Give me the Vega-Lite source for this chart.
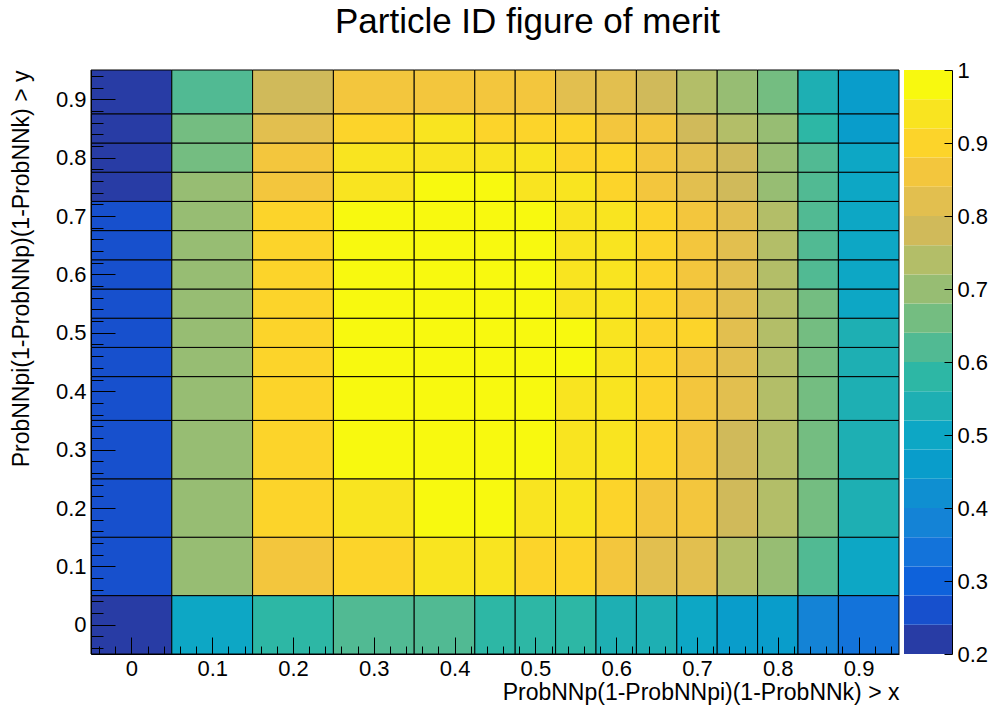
{
  "$schema": "https://vega.github.io/schema/vega-lite/v6.json",
  "autosize": {"type": "none"},
  "width": 861,
  "height": 584,
  "padding": {"left": 91, "top": 70, "right": 40, "bottom": 57},
  "background": "white",
  "title": {
    "text": "Particle ID figure of merit",
    "font": "Liberation Sans",
    "fontSize": 35,
    "fontWeight": "normal",
    "color": "black",
    "anchor": "middle",
    "dx": 6,
    "offset": -9,
    "baseline": "alphabetic"
  },
  "config": {
    "view": {"stroke": null},
    "axis": {
      "labelFont": "Liberation Sans",
      "labelFontSize": 22,
      "labelColor": "black",
      "titleFont": "Liberation Sans",
      "titleFontSize": 23,
      "titleFontWeight": "normal",
      "titleColor": "black",
      "domainColor": "black",
      "domainWidth": 1,
      "tickColor": "black",
      "tickWidth": 1,
      "grid": false,
      "labelOverlap": false,
      "labelFlush": false
    }
  },
  "datasets": {
    "cells": [
      {"x0":-0.05,"x1":0.05,"y0":-0.05,"y1":0.05,"fom":0.22},
      {"x0":0.05,"x1":0.15,"y0":-0.05,"y1":0.05,"fom":0.50},
      {"x0":0.15,"x1":0.25,"y0":-0.05,"y1":0.05,"fom":0.58},
      {"x0":0.25,"x1":0.35,"y0":-0.05,"y1":0.05,"fom":0.62},
      {"x0":0.35,"x1":0.425,"y0":-0.05,"y1":0.05,"fom":0.62},
      {"x0":0.425,"x1":0.475,"y0":-0.05,"y1":0.05,"fom":0.58},
      {"x0":0.475,"x1":0.525,"y0":-0.05,"y1":0.05,"fom":0.58},
      {"x0":0.525,"x1":0.575,"y0":-0.05,"y1":0.05,"fom":0.58},
      {"x0":0.575,"x1":0.625,"y0":-0.05,"y1":0.05,"fom":0.54},
      {"x0":0.625,"x1":0.675,"y0":-0.05,"y1":0.05,"fom":0.54},
      {"x0":0.675,"x1":0.725,"y0":-0.05,"y1":0.05,"fom":0.50},
      {"x0":0.725,"x1":0.775,"y0":-0.05,"y1":0.05,"fom":0.46},
      {"x0":0.775,"x1":0.825,"y0":-0.05,"y1":0.05,"fom":0.46},
      {"x0":0.825,"x1":0.875,"y0":-0.05,"y1":0.05,"fom":0.38},
      {"x0":0.875,"x1":0.95,"y0":-0.05,"y1":0.05,"fom":0.34},

      {"x0":-0.05,"x1":0.05,"y0":0.05,"y1":0.15,"fom":0.26},
      {"x0":0.05,"x1":0.15,"y0":0.05,"y1":0.15,"fom":0.70},
      {"x0":0.15,"x1":0.25,"y0":0.05,"y1":0.15,"fom":0.86},
      {"x0":0.25,"x1":0.35,"y0":0.05,"y1":0.15,"fom":0.90},
      {"x0":0.35,"x1":0.425,"y0":0.05,"y1":0.15,"fom":0.94},
      {"x0":0.425,"x1":0.475,"y0":0.05,"y1":0.15,"fom":0.94},
      {"x0":0.475,"x1":0.525,"y0":0.05,"y1":0.15,"fom":0.90},
      {"x0":0.525,"x1":0.575,"y0":0.05,"y1":0.15,"fom":0.90},
      {"x0":0.575,"x1":0.625,"y0":0.05,"y1":0.15,"fom":0.86},
      {"x0":0.625,"x1":0.675,"y0":0.05,"y1":0.15,"fom":0.82},
      {"x0":0.675,"x1":0.725,"y0":0.05,"y1":0.15,"fom":0.82},
      {"x0":0.725,"x1":0.775,"y0":0.05,"y1":0.15,"fom":0.74},
      {"x0":0.775,"x1":0.825,"y0":0.05,"y1":0.15,"fom":0.70},
      {"x0":0.825,"x1":0.875,"y0":0.05,"y1":0.15,"fom":0.62},
      {"x0":0.875,"x1":0.95,"y0":0.05,"y1":0.15,"fom":0.50},

      {"x0":-0.05,"x1":0.05,"y0":0.15,"y1":0.25,"fom":0.26},
      {"x0":0.05,"x1":0.15,"y0":0.15,"y1":0.25,"fom":0.70},
      {"x0":0.15,"x1":0.25,"y0":0.15,"y1":0.25,"fom":0.90},
      {"x0":0.25,"x1":0.35,"y0":0.15,"y1":0.25,"fom":0.94},
      {"x0":0.35,"x1":0.425,"y0":0.15,"y1":0.25,"fom":0.98},
      {"x0":0.425,"x1":0.475,"y0":0.15,"y1":0.25,"fom":0.98},
      {"x0":0.475,"x1":0.525,"y0":0.15,"y1":0.25,"fom":0.94},
      {"x0":0.525,"x1":0.575,"y0":0.15,"y1":0.25,"fom":0.94},
      {"x0":0.575,"x1":0.625,"y0":0.15,"y1":0.25,"fom":0.90},
      {"x0":0.625,"x1":0.675,"y0":0.15,"y1":0.25,"fom":0.86},
      {"x0":0.675,"x1":0.725,"y0":0.15,"y1":0.25,"fom":0.86},
      {"x0":0.725,"x1":0.775,"y0":0.15,"y1":0.25,"fom":0.78},
      {"x0":0.775,"x1":0.825,"y0":0.15,"y1":0.25,"fom":0.74},
      {"x0":0.825,"x1":0.875,"y0":0.15,"y1":0.25,"fom":0.66},
      {"x0":0.875,"x1":0.95,"y0":0.15,"y1":0.25,"fom":0.54},

      {"x0":-0.05,"x1":0.05,"y0":0.25,"y1":0.35,"fom":0.26},
      {"x0":0.05,"x1":0.15,"y0":0.25,"y1":0.35,"fom":0.70},
      {"x0":0.15,"x1":0.25,"y0":0.25,"y1":0.35,"fom":0.90},
      {"x0":0.25,"x1":0.35,"y0":0.25,"y1":0.35,"fom":0.98},
      {"x0":0.35,"x1":0.425,"y0":0.25,"y1":0.35,"fom":0.98},
      {"x0":0.425,"x1":0.475,"y0":0.25,"y1":0.35,"fom":0.98},
      {"x0":0.475,"x1":0.525,"y0":0.25,"y1":0.35,"fom":0.98},
      {"x0":0.525,"x1":0.575,"y0":0.25,"y1":0.35,"fom":0.94},
      {"x0":0.575,"x1":0.625,"y0":0.25,"y1":0.35,"fom":0.94},
      {"x0":0.625,"x1":0.675,"y0":0.25,"y1":0.35,"fom":0.90},
      {"x0":0.675,"x1":0.725,"y0":0.25,"y1":0.35,"fom":0.86},
      {"x0":0.725,"x1":0.775,"y0":0.25,"y1":0.35,"fom":0.78},
      {"x0":0.775,"x1":0.825,"y0":0.25,"y1":0.35,"fom":0.74},
      {"x0":0.825,"x1":0.875,"y0":0.25,"y1":0.35,"fom":0.66},
      {"x0":0.875,"x1":0.95,"y0":0.25,"y1":0.35,"fom":0.54},

      {"x0":-0.05,"x1":0.05,"y0":0.35,"y1":0.425,"fom":0.26},
      {"x0":0.05,"x1":0.15,"y0":0.35,"y1":0.425,"fom":0.70},
      {"x0":0.15,"x1":0.25,"y0":0.35,"y1":0.425,"fom":0.90},
      {"x0":0.25,"x1":0.35,"y0":0.35,"y1":0.425,"fom":0.98},
      {"x0":0.35,"x1":0.425,"y0":0.35,"y1":0.425,"fom":0.98},
      {"x0":0.425,"x1":0.475,"y0":0.35,"y1":0.425,"fom":0.98},
      {"x0":0.475,"x1":0.525,"y0":0.35,"y1":0.425,"fom":0.98},
      {"x0":0.525,"x1":0.575,"y0":0.35,"y1":0.425,"fom":0.94},
      {"x0":0.575,"x1":0.625,"y0":0.35,"y1":0.425,"fom":0.94},
      {"x0":0.625,"x1":0.675,"y0":0.35,"y1":0.425,"fom":0.90},
      {"x0":0.675,"x1":0.725,"y0":0.35,"y1":0.425,"fom":0.86},
      {"x0":0.725,"x1":0.775,"y0":0.35,"y1":0.425,"fom":0.82},
      {"x0":0.775,"x1":0.825,"y0":0.35,"y1":0.425,"fom":0.74},
      {"x0":0.825,"x1":0.875,"y0":0.35,"y1":0.425,"fom":0.66},
      {"x0":0.875,"x1":0.95,"y0":0.35,"y1":0.425,"fom":0.54},

      {"x0":-0.05,"x1":0.05,"y0":0.425,"y1":0.475,"fom":0.26},
      {"x0":0.05,"x1":0.15,"y0":0.425,"y1":0.475,"fom":0.70},
      {"x0":0.15,"x1":0.25,"y0":0.425,"y1":0.475,"fom":0.90},
      {"x0":0.25,"x1":0.35,"y0":0.425,"y1":0.475,"fom":0.98},
      {"x0":0.35,"x1":0.425,"y0":0.425,"y1":0.475,"fom":0.98},
      {"x0":0.425,"x1":0.475,"y0":0.425,"y1":0.475,"fom":0.98},
      {"x0":0.475,"x1":0.525,"y0":0.425,"y1":0.475,"fom":0.98},
      {"x0":0.525,"x1":0.575,"y0":0.425,"y1":0.475,"fom":0.98},
      {"x0":0.575,"x1":0.625,"y0":0.425,"y1":0.475,"fom":0.94},
      {"x0":0.625,"x1":0.675,"y0":0.425,"y1":0.475,"fom":0.90},
      {"x0":0.675,"x1":0.725,"y0":0.425,"y1":0.475,"fom":0.86},
      {"x0":0.725,"x1":0.775,"y0":0.425,"y1":0.475,"fom":0.82},
      {"x0":0.775,"x1":0.825,"y0":0.425,"y1":0.475,"fom":0.74},
      {"x0":0.825,"x1":0.875,"y0":0.425,"y1":0.475,"fom":0.66},
      {"x0":0.875,"x1":0.95,"y0":0.425,"y1":0.475,"fom":0.54},

      {"x0":-0.05,"x1":0.05,"y0":0.475,"y1":0.525,"fom":0.26},
      {"x0":0.05,"x1":0.15,"y0":0.475,"y1":0.525,"fom":0.70},
      {"x0":0.15,"x1":0.25,"y0":0.475,"y1":0.525,"fom":0.90},
      {"x0":0.25,"x1":0.35,"y0":0.475,"y1":0.525,"fom":0.98},
      {"x0":0.35,"x1":0.425,"y0":0.475,"y1":0.525,"fom":0.98},
      {"x0":0.425,"x1":0.475,"y0":0.475,"y1":0.525,"fom":0.98},
      {"x0":0.475,"x1":0.525,"y0":0.475,"y1":0.525,"fom":0.98},
      {"x0":0.525,"x1":0.575,"y0":0.475,"y1":0.525,"fom":0.98},
      {"x0":0.575,"x1":0.625,"y0":0.475,"y1":0.525,"fom":0.94},
      {"x0":0.625,"x1":0.675,"y0":0.475,"y1":0.525,"fom":0.90},
      {"x0":0.675,"x1":0.725,"y0":0.475,"y1":0.525,"fom":0.90},
      {"x0":0.725,"x1":0.775,"y0":0.475,"y1":0.525,"fom":0.82},
      {"x0":0.775,"x1":0.825,"y0":0.475,"y1":0.525,"fom":0.74},
      {"x0":0.825,"x1":0.875,"y0":0.475,"y1":0.525,"fom":0.66},
      {"x0":0.875,"x1":0.95,"y0":0.475,"y1":0.525,"fom":0.54},

      {"x0":-0.05,"x1":0.05,"y0":0.525,"y1":0.575,"fom":0.26},
      {"x0":0.05,"x1":0.15,"y0":0.525,"y1":0.575,"fom":0.70},
      {"x0":0.15,"x1":0.25,"y0":0.525,"y1":0.575,"fom":0.90},
      {"x0":0.25,"x1":0.35,"y0":0.525,"y1":0.575,"fom":0.98},
      {"x0":0.35,"x1":0.425,"y0":0.525,"y1":0.575,"fom":0.98},
      {"x0":0.425,"x1":0.475,"y0":0.525,"y1":0.575,"fom":0.98},
      {"x0":0.475,"x1":0.525,"y0":0.525,"y1":0.575,"fom":0.98},
      {"x0":0.525,"x1":0.575,"y0":0.525,"y1":0.575,"fom":0.94},
      {"x0":0.575,"x1":0.625,"y0":0.525,"y1":0.575,"fom":0.94},
      {"x0":0.625,"x1":0.675,"y0":0.525,"y1":0.575,"fom":0.90},
      {"x0":0.675,"x1":0.725,"y0":0.525,"y1":0.575,"fom":0.86},
      {"x0":0.725,"x1":0.775,"y0":0.525,"y1":0.575,"fom":0.82},
      {"x0":0.775,"x1":0.825,"y0":0.525,"y1":0.575,"fom":0.74},
      {"x0":0.825,"x1":0.875,"y0":0.525,"y1":0.575,"fom":0.66},
      {"x0":0.875,"x1":0.95,"y0":0.525,"y1":0.575,"fom":0.50},

      {"x0":-0.05,"x1":0.05,"y0":0.575,"y1":0.625,"fom":0.26},
      {"x0":0.05,"x1":0.15,"y0":0.575,"y1":0.625,"fom":0.70},
      {"x0":0.15,"x1":0.25,"y0":0.575,"y1":0.625,"fom":0.90},
      {"x0":0.25,"x1":0.35,"y0":0.575,"y1":0.625,"fom":0.98},
      {"x0":0.35,"x1":0.425,"y0":0.575,"y1":0.625,"fom":0.98},
      {"x0":0.425,"x1":0.475,"y0":0.575,"y1":0.625,"fom":0.98},
      {"x0":0.475,"x1":0.525,"y0":0.575,"y1":0.625,"fom":0.98},
      {"x0":0.525,"x1":0.575,"y0":0.575,"y1":0.625,"fom":0.94},
      {"x0":0.575,"x1":0.625,"y0":0.575,"y1":0.625,"fom":0.94},
      {"x0":0.625,"x1":0.675,"y0":0.575,"y1":0.625,"fom":0.90},
      {"x0":0.675,"x1":0.725,"y0":0.575,"y1":0.625,"fom":0.86},
      {"x0":0.725,"x1":0.775,"y0":0.575,"y1":0.625,"fom":0.82},
      {"x0":0.775,"x1":0.825,"y0":0.575,"y1":0.625,"fom":0.74},
      {"x0":0.825,"x1":0.875,"y0":0.575,"y1":0.625,"fom":0.62},
      {"x0":0.875,"x1":0.95,"y0":0.575,"y1":0.625,"fom":0.50},

      {"x0":-0.05,"x1":0.05,"y0":0.625,"y1":0.675,"fom":0.26},
      {"x0":0.05,"x1":0.15,"y0":0.625,"y1":0.675,"fom":0.70},
      {"x0":0.15,"x1":0.25,"y0":0.625,"y1":0.675,"fom":0.90},
      {"x0":0.25,"x1":0.35,"y0":0.625,"y1":0.675,"fom":0.98},
      {"x0":0.35,"x1":0.425,"y0":0.625,"y1":0.675,"fom":0.98},
      {"x0":0.425,"x1":0.475,"y0":0.625,"y1":0.675,"fom":0.98},
      {"x0":0.475,"x1":0.525,"y0":0.625,"y1":0.675,"fom":0.98},
      {"x0":0.525,"x1":0.575,"y0":0.625,"y1":0.675,"fom":0.94},
      {"x0":0.575,"x1":0.625,"y0":0.625,"y1":0.675,"fom":0.94},
      {"x0":0.625,"x1":0.675,"y0":0.625,"y1":0.675,"fom":0.90},
      {"x0":0.675,"x1":0.725,"y0":0.625,"y1":0.675,"fom":0.86},
      {"x0":0.725,"x1":0.775,"y0":0.625,"y1":0.675,"fom":0.82},
      {"x0":0.775,"x1":0.825,"y0":0.625,"y1":0.675,"fom":0.74},
      {"x0":0.825,"x1":0.875,"y0":0.625,"y1":0.675,"fom":0.62},
      {"x0":0.875,"x1":0.95,"y0":0.625,"y1":0.675,"fom":0.50},

      {"x0":-0.05,"x1":0.05,"y0":0.675,"y1":0.725,"fom":0.26},
      {"x0":0.05,"x1":0.15,"y0":0.675,"y1":0.725,"fom":0.70},
      {"x0":0.15,"x1":0.25,"y0":0.675,"y1":0.725,"fom":0.90},
      {"x0":0.25,"x1":0.35,"y0":0.675,"y1":0.725,"fom":0.98},
      {"x0":0.35,"x1":0.425,"y0":0.675,"y1":0.725,"fom":0.98},
      {"x0":0.425,"x1":0.475,"y0":0.675,"y1":0.725,"fom":0.98},
      {"x0":0.475,"x1":0.525,"y0":0.675,"y1":0.725,"fom":0.98},
      {"x0":0.525,"x1":0.575,"y0":0.675,"y1":0.725,"fom":0.94},
      {"x0":0.575,"x1":0.625,"y0":0.675,"y1":0.725,"fom":0.94},
      {"x0":0.625,"x1":0.675,"y0":0.675,"y1":0.725,"fom":0.90},
      {"x0":0.675,"x1":0.725,"y0":0.675,"y1":0.725,"fom":0.86},
      {"x0":0.725,"x1":0.775,"y0":0.675,"y1":0.725,"fom":0.82},
      {"x0":0.775,"x1":0.825,"y0":0.675,"y1":0.725,"fom":0.74},
      {"x0":0.825,"x1":0.875,"y0":0.675,"y1":0.725,"fom":0.62},
      {"x0":0.875,"x1":0.95,"y0":0.675,"y1":0.725,"fom":0.50},

      {"x0":-0.05,"x1":0.05,"y0":0.725,"y1":0.775,"fom":0.22},
      {"x0":0.05,"x1":0.15,"y0":0.725,"y1":0.775,"fom":0.70},
      {"x0":0.15,"x1":0.25,"y0":0.725,"y1":0.775,"fom":0.86},
      {"x0":0.25,"x1":0.35,"y0":0.725,"y1":0.775,"fom":0.94},
      {"x0":0.35,"x1":0.425,"y0":0.725,"y1":0.775,"fom":0.98},
      {"x0":0.425,"x1":0.475,"y0":0.725,"y1":0.775,"fom":0.98},
      {"x0":0.475,"x1":0.525,"y0":0.725,"y1":0.775,"fom":0.94},
      {"x0":0.525,"x1":0.575,"y0":0.725,"y1":0.775,"fom":0.94},
      {"x0":0.575,"x1":0.625,"y0":0.725,"y1":0.775,"fom":0.90},
      {"x0":0.625,"x1":0.675,"y0":0.725,"y1":0.775,"fom":0.86},
      {"x0":0.675,"x1":0.725,"y0":0.725,"y1":0.775,"fom":0.82},
      {"x0":0.725,"x1":0.775,"y0":0.725,"y1":0.775,"fom":0.78},
      {"x0":0.775,"x1":0.825,"y0":0.725,"y1":0.775,"fom":0.70},
      {"x0":0.825,"x1":0.875,"y0":0.725,"y1":0.775,"fom":0.62},
      {"x0":0.875,"x1":0.95,"y0":0.725,"y1":0.775,"fom":0.50},

      {"x0":-0.05,"x1":0.05,"y0":0.775,"y1":0.825,"fom":0.22},
      {"x0":0.05,"x1":0.15,"y0":0.775,"y1":0.825,"fom":0.66},
      {"x0":0.15,"x1":0.25,"y0":0.775,"y1":0.825,"fom":0.86},
      {"x0":0.25,"x1":0.35,"y0":0.775,"y1":0.825,"fom":0.94},
      {"x0":0.35,"x1":0.425,"y0":0.775,"y1":0.825,"fom":0.94},
      {"x0":0.425,"x1":0.475,"y0":0.775,"y1":0.825,"fom":0.94},
      {"x0":0.475,"x1":0.525,"y0":0.775,"y1":0.825,"fom":0.94},
      {"x0":0.525,"x1":0.575,"y0":0.775,"y1":0.825,"fom":0.90},
      {"x0":0.575,"x1":0.625,"y0":0.775,"y1":0.825,"fom":0.90},
      {"x0":0.625,"x1":0.675,"y0":0.775,"y1":0.825,"fom":0.86},
      {"x0":0.675,"x1":0.725,"y0":0.775,"y1":0.825,"fom":0.82},
      {"x0":0.725,"x1":0.775,"y0":0.775,"y1":0.825,"fom":0.78},
      {"x0":0.775,"x1":0.825,"y0":0.775,"y1":0.825,"fom":0.70},
      {"x0":0.825,"x1":0.875,"y0":0.775,"y1":0.825,"fom":0.62},
      {"x0":0.875,"x1":0.95,"y0":0.775,"y1":0.825,"fom":0.50},

      {"x0":-0.05,"x1":0.05,"y0":0.825,"y1":0.875,"fom":0.22},
      {"x0":0.05,"x1":0.15,"y0":0.825,"y1":0.875,"fom":0.66},
      {"x0":0.15,"x1":0.25,"y0":0.825,"y1":0.875,"fom":0.82},
      {"x0":0.25,"x1":0.35,"y0":0.825,"y1":0.875,"fom":0.90},
      {"x0":0.35,"x1":0.425,"y0":0.825,"y1":0.875,"fom":0.94},
      {"x0":0.425,"x1":0.475,"y0":0.825,"y1":0.875,"fom":0.90},
      {"x0":0.475,"x1":0.525,"y0":0.825,"y1":0.875,"fom":0.90},
      {"x0":0.525,"x1":0.575,"y0":0.825,"y1":0.875,"fom":0.90},
      {"x0":0.575,"x1":0.625,"y0":0.825,"y1":0.875,"fom":0.86},
      {"x0":0.625,"x1":0.675,"y0":0.825,"y1":0.875,"fom":0.86},
      {"x0":0.675,"x1":0.725,"y0":0.825,"y1":0.875,"fom":0.78},
      {"x0":0.725,"x1":0.775,"y0":0.825,"y1":0.875,"fom":0.74},
      {"x0":0.775,"x1":0.825,"y0":0.825,"y1":0.875,"fom":0.70},
      {"x0":0.825,"x1":0.875,"y0":0.825,"y1":0.875,"fom":0.58},
      {"x0":0.875,"x1":0.95,"y0":0.825,"y1":0.875,"fom":0.46},

      {"x0":-0.05,"x1":0.05,"y0":0.875,"y1":0.95,"fom":0.22},
      {"x0":0.05,"x1":0.15,"y0":0.875,"y1":0.95,"fom":0.62},
      {"x0":0.15,"x1":0.25,"y0":0.875,"y1":0.95,"fom":0.78},
      {"x0":0.25,"x1":0.35,"y0":0.875,"y1":0.95,"fom":0.86},
      {"x0":0.35,"x1":0.425,"y0":0.875,"y1":0.95,"fom":0.86},
      {"x0":0.425,"x1":0.475,"y0":0.875,"y1":0.95,"fom":0.86},
      {"x0":0.475,"x1":0.525,"y0":0.875,"y1":0.95,"fom":0.86},
      {"x0":0.525,"x1":0.575,"y0":0.875,"y1":0.95,"fom":0.82},
      {"x0":0.575,"x1":0.625,"y0":0.875,"y1":0.95,"fom":0.82},
      {"x0":0.625,"x1":0.675,"y0":0.875,"y1":0.95,"fom":0.78},
      {"x0":0.675,"x1":0.725,"y0":0.875,"y1":0.95,"fom":0.74},
      {"x0":0.725,"x1":0.775,"y0":0.875,"y1":0.95,"fom":0.70},
      {"x0":0.775,"x1":0.825,"y0":0.875,"y1":0.95,"fom":0.66},
      {"x0":0.825,"x1":0.875,"y0":0.875,"y1":0.95,"fom":0.54},
      {"x0":0.875,"x1":0.95,"y0":0.875,"y1":0.95,"fom":0.46}
    ],
    "bands": [
      {"lo":0.20,"hi":0.24,"fom":0.22},
      {"lo":0.24,"hi":0.28,"fom":0.26},
      {"lo":0.28,"hi":0.32,"fom":0.30},
      {"lo":0.32,"hi":0.36,"fom":0.34},
      {"lo":0.36,"hi":0.40,"fom":0.38},
      {"lo":0.40,"hi":0.44,"fom":0.42},
      {"lo":0.44,"hi":0.48,"fom":0.46},
      {"lo":0.48,"hi":0.52,"fom":0.50},
      {"lo":0.52,"hi":0.56,"fom":0.54},
      {"lo":0.56,"hi":0.60,"fom":0.58},
      {"lo":0.60,"hi":0.64,"fom":0.62},
      {"lo":0.64,"hi":0.68,"fom":0.66},
      {"lo":0.68,"hi":0.72,"fom":0.70},
      {"lo":0.72,"hi":0.76,"fom":0.74},
      {"lo":0.76,"hi":0.80,"fom":0.78},
      {"lo":0.80,"hi":0.84,"fom":0.82},
      {"lo":0.84,"hi":0.88,"fom":0.86},
      {"lo":0.88,"hi":0.92,"fom":0.90},
      {"lo":0.92,"hi":0.96,"fom":0.94},
      {"lo":0.96,"hi":1.00,"fom":0.98}
    ]
  },
  "layer": [
    {
      "data": {"name": "cells"},
      "mark": {"type": "rect", "stroke": "black", "strokeWidth": 1},
      "encoding": {
        "x": {
          "field": "x0", "type": "quantitative",
          "scale": {"domain": [-0.05, 0.95], "range": [0, 808], "nice": false, "zero": false},
          "axis": {
            "zindex": 2,
            "orient": "bottom",
            "values": [0, 0.1, 0.2, 0.3, 0.4, 0.5, 0.6, 0.7, 0.8, 0.9],
            "format": ".1~f",
            "tickSize": -17,
            "labelPadding": 21,
            "title": "ProbNNp(1-ProbNNpi)(1-ProbNNk) > x",
            "titleAlign": "right",
            "titleBaseline": "middle",
            "titleAngle": 0,
            "titleX": 808,
            "titleY": 38
          }
        },
        "x2": {"field": "x1"},
        "y": {
          "field": "y0", "type": "quantitative",
          "scale": {"domain": [-0.05, 0.95], "nice": false, "zero": false},
          "axis": {
            "zindex": 2,
            "orient": "left",
            "values": [0, 0.1, 0.2, 0.3, 0.4, 0.5, 0.6, 0.7, 0.8, 0.9],
            "format": ".1~f",
            "tickSize": -24,
            "labelPadding": 29,
            "title": "ProbNNpi(1-ProbNNp)(1-ProbNNk) > y",
            "titleAlign": "right",
            "titleBaseline": "middle",
            "titleAngle": -90,
            "titleX": -70,
            "titleY": 0
          }
        },
        "y2": {"field": "y1"},
        "color": {
          "field": "fom", "type": "quantitative",
          "scale": {
            "type": "quantize",
            "domain": [0.2, 1.0],
            "range": ["#283CA5","#1750CD","#0E62DB","#1373DA","#1483D6","#0F8FD1","#099DCB","#0DA7C5","#1EAFB3","#2DB7A5","#51BA93","#74BD81","#97BD73","#B3BE68","#D0BA5A","#E2BF4F","#F3C63D","#FCD42A","#F9E420","#F8F90F"]
          },
          "legend": null
        }
      }
    },
    {
      "data": {"name": "cells"},
      "mark": {"type": "rect", "opacity": 0},
      "encoding": {
        "x": {
          "field": "x0", "type": "quantitative",
          "scale": {"domain": [-0.05, 0.95], "range": [0, 808], "nice": false, "zero": false},
          "axis": {"zindex": 2, "orient": "bottom", "tickCount": 50, "tickSize": -8, "labels": false, "domain": false, "title": null}
        },
        "x2": {"field": "x1"},
        "y": {
          "field": "y0", "type": "quantitative",
          "scale": {"domain": [-0.05, 0.95], "nice": false, "zero": false},
          "axis": {"zindex": 2, "orient": "left", "tickCount": 50, "tickSize": -12, "labels": false, "domain": false, "title": null}
        },
        "y2": {"field": "y1"}
      }
    },
    {
      "data": {"name": "bands"},
      "mark": {"type": "rect"},
      "encoding": {
        "x": {"datum": 0, "type": "quantitative", "scale": {"domain": [0, 1], "range": [813, 861], "nice": false, "zero": false}, "axis": null},
        "x2": {"datum": 1},
        "y": {
          "field": "lo", "type": "quantitative",
          "scale": {"domain": [0.2, 1.0], "nice": false, "zero": false},
          "axis": {
            "zindex": 2,
            "orient": "right",
            "values": [0.2, 0.3, 0.4, 0.5, 0.6, 0.7, 0.8, 0.9, 1.0],
            "format": ".1~f",
            "tickSize": -8,
            "labelPadding": 13,
            "title": null
          }
        },
        "y2": {"field": "hi"},
        "color": {
          "field": "fom", "type": "quantitative",
          "scale": {
            "type": "quantize",
            "domain": [0.2, 1.0],
            "range": ["#283CA5","#1750CD","#0E62DB","#1373DA","#1483D6","#0F8FD1","#099DCB","#0DA7C5","#1EAFB3","#2DB7A5","#51BA93","#74BD81","#97BD73","#B3BE68","#D0BA5A","#E2BF4F","#F3C63D","#FCD42A","#F9E420","#F8F90F"]
          },
          "legend": null
        }
      }
    }
  ],
  "resolve": {
    "scale": {"x": "independent", "y": "independent", "color": "shared"},
    "axis": {"x": "independent", "y": "independent"}
  }
}
